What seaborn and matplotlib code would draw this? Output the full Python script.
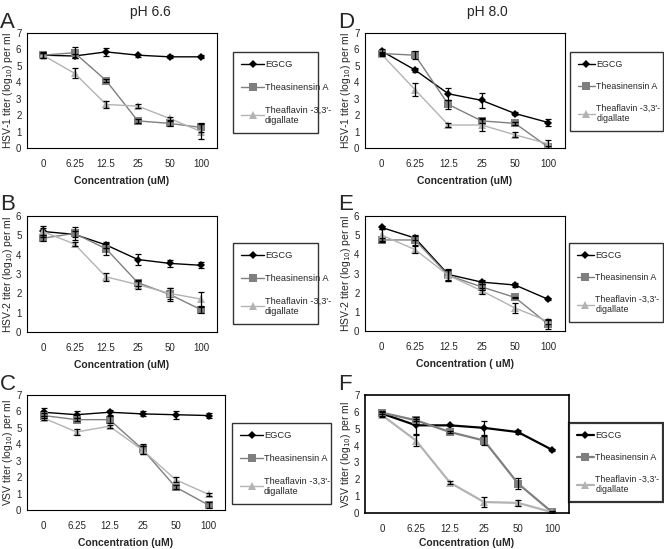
import numpy as np
import pandas as pd
import matplotlib
matplotlib.use("Agg")
import matplotlib.pyplot as plt
import seaborn as sns

sns.set_style("white")
plt.rcParams['font.family'] = ['Liberation Sans', 'DejaVu Sans']

conc_labels = ["0", "6.25", "12.5", "25", "50", "100"]
compounds = ["EGCG", "Theasinensin A", "Theaflavin -3,3'-\ndigallate"]

# panel A: HSV-1, pH 6.6
a_egcg = [5.65, 5.6, 5.85, 5.65, 5.55, 5.55]
a_egcg_err = [0.2, 0.15, 0.25, 0.1, 0.1, 0.1]
a_ta = [5.65, 5.8, 4.1, 1.65, 1.5, 1.25]
a_ta_err = [0.15, 0.35, 0.1, 0.1, 0.15, 0.25]
a_tf = [5.65, 4.55, 2.65, 2.55, 1.8, 1.0]
a_tf_err = [0.15, 0.3, 0.2, 0.1, 0.1, 0.45]

# panel B: HSV-2, pH 6.6
b_egcg = [5.2, 5.05, 4.5, 3.75, 3.55, 3.45]
b_egcg_err = [0.2, 0.15, 0.15, 0.3, 0.2, 0.15]
b_ta = [4.85, 5.1, 4.3, 2.55, 1.95, 1.15]
b_ta_err = [0.15, 0.35, 0.3, 0.15, 0.35, 0.15]
b_tf = [5.2, 4.55, 2.85, 2.45, 2.0, 1.7]
b_tf_err = [0.3, 0.1, 0.2, 0.2, 0.3, 0.35]

# panel C: VSV, pH 6.6
c_egcg = [5.95, 5.8, 5.95, 5.85, 5.8, 5.75]
c_egcg_err = [0.25, 0.2, 0.15, 0.15, 0.25, 0.15]
c_ta = [5.75, 5.5, 5.5, 3.7, 1.4, 0.3]
c_ta_err = [0.15, 0.1, 0.2, 0.3, 0.1, 0.2]
c_tf = [5.6, 4.75, 5.1, 3.65, 1.85, 0.95]
c_tf_err = [0.15, 0.2, 0.1, 0.25, 0.15, 0.1]

# panel D: HSV-1, pH 8.0
d_egcg = [5.9, 4.75, 3.3, 2.9, 2.1, 1.55]
d_egcg_err = [0.15, 0.15, 0.35, 0.45, 0.1, 0.2]
d_ta = [5.75, 5.65, 2.65, 1.65, 1.5, 0.05]
d_ta_err = [0.1, 0.25, 0.3, 0.15, 0.1, 0.1]
d_tf = [5.7, 3.55, 1.4, 1.4, 0.8, 0.25]
d_tf_err = [0.1, 0.4, 0.1, 0.35, 0.15, 0.25]

# panel E: HSV-2, pH 8.0
e_egcg = [5.4, 4.85, 2.95, 2.55, 2.4, 1.65]
e_egcg_err = [0.1, 0.1, 0.3, 0.1, 0.1, 0.05]
e_ta = [4.75, 4.75, 2.9, 2.3, 1.75, 0.35]
e_ta_err = [0.1, 0.25, 0.3, 0.15, 0.05, 0.25]
e_tf = [5.0, 4.25, 2.9, 2.1, 1.2, 0.5]
e_tf_err = [0.3, 0.2, 0.3, 0.15, 0.25, 0.15]

# panel F: VSV, pH 8.0
f_egcg = [5.9, 5.2, 5.2, 5.05, 4.8, 3.75]
f_egcg_err = [0.15, 0.5, 0.05, 0.4, 0.1, 0.05]
f_ta = [5.95, 5.5, 4.8, 4.3, 1.75, 0.05]
f_ta_err = [0.05, 0.05, 0.05, 0.25, 0.35, 0.05]
f_tf = [5.8, 4.3, 1.8, 0.65, 0.6, 0.05]
f_tf_err = [0.1, 0.3, 0.1, 0.3, 0.2, 0.05]

colors = ["#000000", "#7f7f7f", "#b3b3b3"]
markers = ["D", "s", "^"]
msizes = [3.8, 5.5, 6]

W, H = 664, 549
fig = plt.figure(figsize=(W / 100, H / 100), dpi=100)


def px_axes(left, top, right, bottom):
    return fig.add_axes([left / W, 1 - bottom / H, (right - left) / W, (bottom - top) / H])


panels = [
    # letter, rect, legend rect, ylabel, ymax, xlabel, series, heavy
    ("A", (27, 33, 217, 148), (233, 52, 318, 128), "HSV-1 titer (log$_{10}$) per ml", 7,
     "Concentration (uM)", [(a_egcg, a_egcg_err), (a_ta, a_ta_err), (a_tf, a_tf_err)], False),
    ("B", (27, 216, 217, 332), (233, 243, 318, 310), "HSV-2 titer (log$_{10}$) per ml", 6,
     "Concentration (uM)", [(b_egcg, b_egcg_err), (b_ta, b_ta_err), (b_tf, b_tf_err)], False),
    ("C", (27, 395, 225, 510), (232, 423, 331, 492), "VSV titer (log$_{10}$) per ml", 7,
     "Concentration (uM)", [(c_egcg, c_egcg_err), (c_ta, c_ta_err), (c_tf, c_tf_err)], False),
    ("D", (365, 33, 565, 148), (570, 52, 663, 128), "HSV-1 titer (log$_{10}$) per ml", 7,
     "Concentration (uM)", [(d_egcg, d_egcg_err), (d_ta, d_ta_err), (d_tf, d_tf_err)], False),
    ("E", (365, 216, 565, 331), (569, 243, 663, 311), "HSV-2 titer (log$_{10}$) per ml", 6,
     "Concentration ( uM)", [(e_egcg, e_egcg_err), (e_ta, e_ta_err), (e_tf, e_tf_err)], False),
    ("F", (365, 395, 569, 513), (569, 423, 663, 494), "VSV titer (log$_{10}$) per ml", 7,
     "Concentration (uM)", [(f_egcg, f_egcg_err), (f_ta, f_ta_err), (f_tf, f_tf_err)], True),
]

xpos = np.arange(len(conc_labels))

for letter, rect, lrect, ylabel, ymax, xlabel, series, heavy in panels:
    ax = px_axes(*rect)
    lw = 1.6 if heavy else 1.0
    rows = []
    for name, (vals, errs) in zip(compounds, series):
        for x, v in zip(xpos, vals):
            rows.append({"x": x, "y": v, "compound": name})
    df = pd.DataFrame(rows)
    sns.lineplot(data=df, x="x", y="y", hue="compound", style="compound",
                 palette=colors, markers=markers, dashes=False, ax=ax,
                 linewidth=lw, markeredgewidth=0, legend=False)
    for line, ms in zip(ax.lines, msizes):
        line.set_markersize(ms)
    for vals, errs in series:
        ax.errorbar(xpos, vals, yerr=errs, fmt="none", ecolor="black",
                    elinewidth=0.9, capsize=2.2, capthick=0.9)
    ax.set_xlim(-0.5, len(conc_labels) - 0.5)
    ax.set_ylim(0, ymax)
    ax.set_yticks(range(0, ymax + 1))
    ax.set_xticks(xpos)
    ax.set_xticklabels(conc_labels)
    ax.set_xticks(np.arange(-0.5, len(conc_labels)), minor=True)
    ax.tick_params(axis="x", which="major", length=0, labelsize=7, pad=8)
    ax.tick_params(axis="x", which="minor", length=3, direction="in", width=0.8)
    ax.tick_params(axis="y", which="major", length=3, direction="out", labelsize=7, pad=1, width=0.8)
    ax.set_xlabel(xlabel, fontsize=7.5, fontweight="bold", labelpad=3 if heavy else 5)
    ax.set_ylabel(ylabel, fontsize=7.5, labelpad=1)
    for side in ax.spines.values():
        side.set_color("black")
        side.set_linewidth(1.2 if heavy else 0.8)
    ax.grid(False)

    # legend box sits to the right of each panel
    lx0, ly0, lx1, ly1 = lrect
    right_col = lx0 > 400
    handles = [plt.Line2D([], [], color=c, marker=m, markersize=ms, markeredgewidth=0,
                          linewidth=lw) for c, m, ms in zip(colors, markers, msizes)]
    leg = fig.legend(handles, compounds, loc="upper left",
                     bbox_to_anchor=(lx0 / W, 1 - ly1 / H, (lx1 - lx0) / W, (ly1 - ly0) / H),
                     mode="expand", fontsize=6.4 if right_col else 6.7, frameon=True,
                     fancybox=False, edgecolor="black",
                     handlelength=1.9 if right_col else 2.4, handletextpad=0.15,
                     labelspacing=1.45, borderpad=0.9, borderaxespad=0)
    leg.get_frame().set_linewidth(1.6 if heavy else 1.0)

    fig.text((rect[0] - 27) / W, 1 - (rect[1] - 11) / H, letter, fontsize=16, va="center", ha="left")

fig.text(150 / W, 1 - 12 / H, "pH 6.6", fontsize=10, ha="center", va="center")
fig.text(487 / W, 1 - 12 / H, "pH 8.0", fontsize=10, ha="center", va="center")

fig.savefig("out.png", dpi=100, facecolor="white")
